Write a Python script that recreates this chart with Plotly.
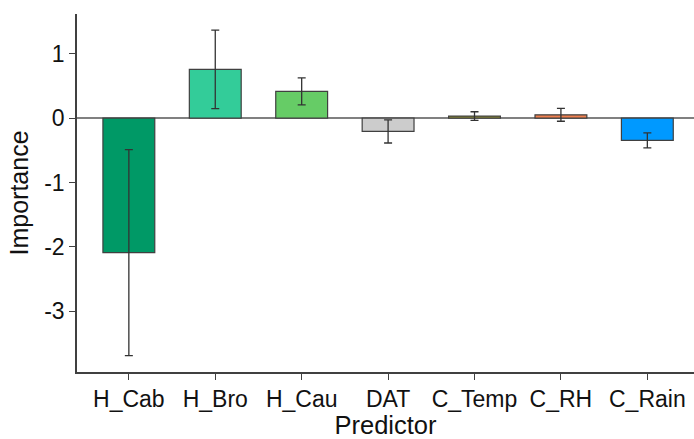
import plotly.graph_objects as go

predictors = ["H_Cab", "H_Bro", "H_Cau", "DAT", "C_Temp", "C_RH", "C_Rain"]
importance = [-2.09, 0.757, 0.415, -0.207, 0.031, 0.051, -0.347]
error = [1.60, 0.61, 0.21, 0.18, 0.067, 0.10, 0.117]
bar_colors = ["#009966", "#33CC99", "#66CC66", "#CCCCCC", "#999933", "#F08050", "#0099FF"]
y_ticks = [-3, -2, -1, 0, 1]
y_tick_labels = ["-3", "-2", "-1", "0", "1"]

FONT = "Liberation Sans, Arial, sans-serif"

fig = go.Figure()
fig.add_trace(go.Bar(
    x=predictors,
    y=importance,
    width=0.6,
    marker=dict(color=bar_colors, line=dict(color="#404040", width=1.2)),
    error_y=dict(type="data", array=error, visible=True,
                 color="#333333", thickness=1.3, width=4),
    showlegend=False,
))

fig.update_layout(
    width=694, height=439,
    margin=dict(l=77, r=0, t=14, b=67),
    plot_bgcolor="white", paper_bgcolor="white",
    font=dict(family=FONT, color="#111111"),
    xaxis=dict(
        range=[-0.6, 6.54],
        showline=True, linecolor="#404040", linewidth=1.5,
        ticks="outside", ticklen=6, tickwidth=1.3, tickcolor="#404040",
        tickfont=dict(size=23, family=FONT),
        title=dict(text="Predictor", font=dict(size=25.5, family=FONT), standoff=2),
        showgrid=False, zeroline=False,
    ),
    yaxis=dict(
        range=[-3.945, 1.617],
        tickvals=y_ticks, ticktext=y_tick_labels,
        showline=True, linecolor="#404040", linewidth=1.5,
        ticks="outside", ticklen=6, tickwidth=1.3, tickcolor="#404040",
        tickfont=dict(size=23, family=FONT),
        title=dict(text="Importance", font=dict(size=25, family=FONT), standoff=8),
        showgrid=False,
        zeroline=True, zerolinecolor="#808080", zerolinewidth=1.5,
    ),
)

fig.write_html("out.html")
